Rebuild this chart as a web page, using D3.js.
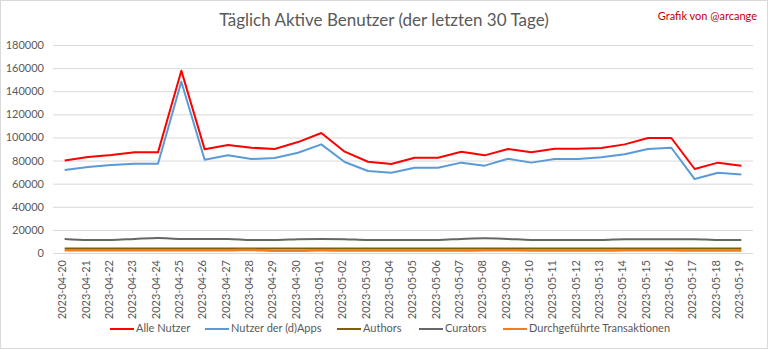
<!DOCTYPE html>
<html><head><meta charset="utf-8">
<script src="https://cdn.jsdelivr.net/npm/d3@7"></script>
<style>body{margin:0;background:#fff}svg{display:block}text{font-family:Lato,"Open Sans",sans-serif}</style>
</head><body><svg id="c" width="768" height="349"></svg>
<script>
const dates = ["2023-04-20","2023-04-21","2023-04-22","2023-04-23","2023-04-24","2023-04-25","2023-04-26","2023-04-27","2023-04-28","2023-04-29","2023-04-30","2023-05-01","2023-05-02","2023-05-03","2023-05-04","2023-05-05","2023-05-06","2023-05-07","2023-05-08","2023-05-09","2023-05-10","2023-05-11","2023-05-12","2023-05-13","2023-05-14","2023-05-15","2023-05-16","2023-05-17","2023-05-18","2023-05-19"];
const alleNutzer = [80000,83000,84800,87100,87100,157800,89700,93500,91100,90000,96000,103800,87700,79000,77000,82500,82500,87700,84500,90000,87100,90300,90300,90900,94000,99500,99500,72700,78200,75600];
const dApps = [71800,74500,76100,77300,77300,148200,80700,84500,81300,82200,86800,94000,78700,71000,69500,73800,73800,78200,75600,81600,78200,81300,81300,82800,85400,90000,91100,64000,69500,68000];
const authors = [3900,3900,3900,4000,4000,3900,3900,3900,3900,3800,3800,3900,3900,3800,3800,3800,3800,3900,3900,3900,3800,3800,3800,3800,3900,3900,3900,3800,3800,3800];
const curators = [12200,11300,11300,12200,13000,12200,12200,12200,11300,11300,12000,12200,12000,11300,11300,11300,11300,12200,12800,12200,11300,11300,11300,11300,12000,12000,12000,12000,11300,11300];
const transaktionen = [2300,2300,2300,2400,2400,2400,2400,2400,2700,2000,2000,2300,2200,2200,2200,2200,2200,2200,2300,2300,2200,2200,2200,2200,2300,2300,2300,2200,2200,2200];
const yTicks = [0,20000,40000,60000,80000,100000,120000,140000,160000,180000];
const seriesNames = ["Alle Nutzer","Nutzer der (d)Apps","Authors","Curators","Durchgeführte Transaktionen"];
const colors = ["#FF0000","#5B9BD5","#7F6000","#666666","#F47B20"];
const seriesData = [alleNutzer,dApps,authors,curators,transaktionen];

const svg = d3.select("#c");
svg.append("rect").attr("x",0.5).attr("y",0.5).attr("width",767).attr("height",348).attr("fill","#fff").attr("stroke","#d9d9d9");
const L=53,R=753,T=45,B=253;
const x = d3.scaleBand().domain(dates).range([L,R]);
const y = d3.scaleLinear().domain([0,180000]).range([B,T]);

svg.append("g").selectAll("line").data(yTicks).join("line")
  .attr("x1",L).attr("x2",R).attr("y1",d=>y(d)+0.5).attr("y2",d=>y(d)+0.5)
  .attr("stroke","#d9d9d9").attr("stroke-width",1);

const ya = svg.append("g").attr("transform",`translate(${L},0)`).call(d3.axisLeft(y).tickValues(yTicks).tickFormat(d3.format("d")).tickSize(0).tickPadding(9));
ya.select(".domain").remove();
ya.selectAll("text").attr("fill","#595959").style("font-size","11px");

const xa = svg.append("g").attr("transform",`translate(0,${B})`).call(d3.axisBottom(x).tickSize(0));
xa.select(".domain").remove();
xa.selectAll("text").attr("fill","#595959").style("font-size","11px")
  .attr("transform","rotate(-90)").attr("text-anchor","end").attr("dx","-7px").attr("dy","-0.1em").attr("x",0).attr("y",0)
  .attr("dominant-baseline","middle");

[3,2,4,1,0].forEach(i=>{
  const line = d3.line().x((d,j)=>x(dates[j])+x.bandwidth()/2).y(d=>y(d));
  if(i>=2) line.curve(d3.curveMonotoneX);
  svg.append("path").datum(seriesData[i]).attr("d",line).attr("fill","none")
    .attr("stroke",colors[i]).attr("stroke-width",i===4?2.5:2).attr("stroke-linejoin","round");
});

svg.append("text").attr("x",384).attr("y",26).attr("text-anchor","middle").attr("fill","#595959").style("font-size","17px").text("Täglich Aktive Benutzer (der letzten 30 Tage)");
svg.append("text").attr("x",757).attr("y",20).attr("text-anchor","end").attr("fill","#C00000").style("font-size","11px").text("Grafik von @arcange");

const legX = [110,205,337,419,503];
const lg = svg.append("g");
seriesNames.forEach((n,i)=>{
  lg.append("line").attr("x1",legX[i]).attr("x2",legX[i]+24).attr("y1",329).attr("y2",329).attr("stroke",colors[i]).attr("stroke-width",2);
  lg.append("text").attr("x",legX[i]+26).attr("y",329).attr("dominant-baseline","middle").attr("fill","#595959").style("font-size","11px").text(n);
});
</script></body></html>
